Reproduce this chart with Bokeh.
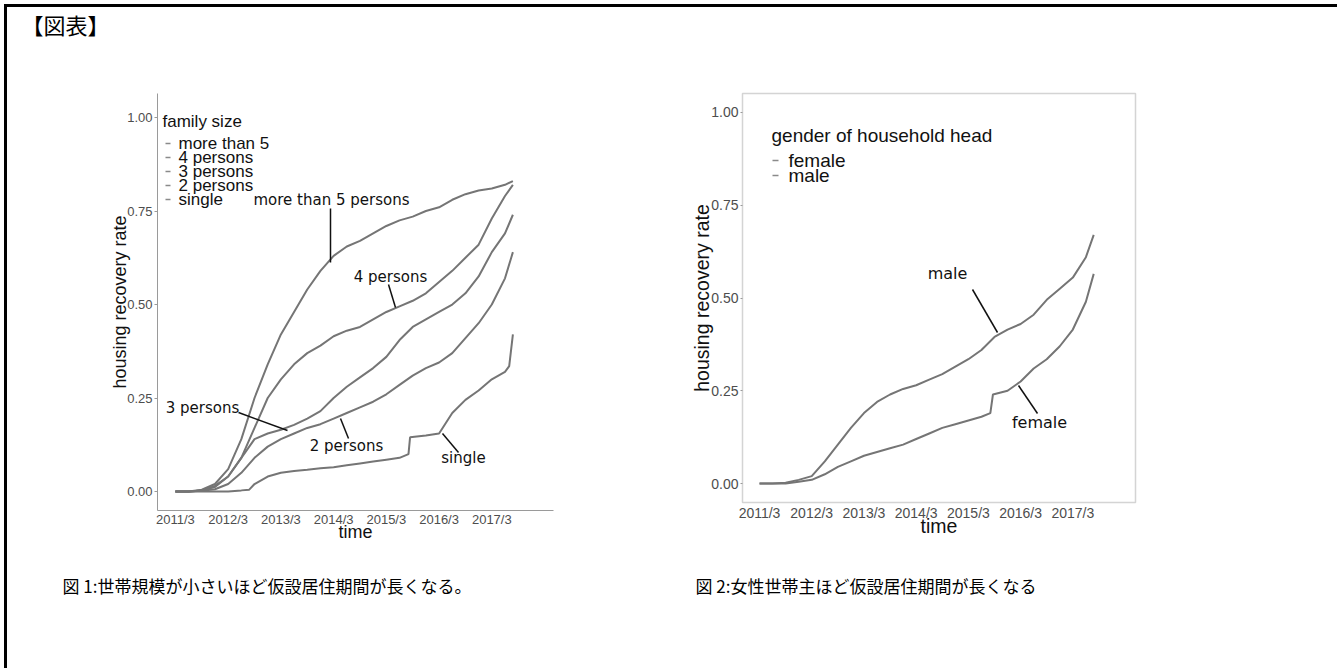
from bokeh.plotting import figure
from bokeh.layouts import row, column
from bokeh.models import Label, FixedTicker, Range1d
from bokeh.embed import file_html
from bokeh.resources import INLINE

# ---------------- data ----------------
x_ticks = [0, 1, 2, 3, 4, 5, 6]
x_tick_labels = ["2011/3", "2012/3", "2013/3", "2014/3", "2015/3", "2016/3", "2017/3"]
y_ticks = [0, 0.25, 0.5, 0.75, 1.0]
y_tick_labels = ["0.00", "0.25", "0.50", "0.75", "1.00"]

# time in years since 2011/3
t_q = [0, 0.25, 0.5, 0.75, 1.0, 1.25, 1.5, 1.75, 2.0, 2.25, 2.5, 2.75, 3.0, 3.25,
       3.5, 3.75, 4.0, 4.25, 4.5, 4.75, 5.0, 5.25, 5.5, 5.75, 6.0, 6.25, 6.4]

more_than_5 = [0, 0, 0.005, 0.02, 0.06, 0.14, 0.25, 0.34, 0.42, 0.48, 0.54, 0.59, 0.63, 0.655,
               0.67, 0.69, 0.71, 0.725, 0.735, 0.75, 0.76, 0.78, 0.795, 0.805, 0.81, 0.82, 0.83]
persons_4 = [0, 0, 0.003, 0.015, 0.04, 0.09, 0.17, 0.25, 0.30, 0.34, 0.37, 0.39, 0.415, 0.43,
             0.44, 0.46, 0.48, 0.495, 0.51, 0.53, 0.56, 0.59, 0.625, 0.66, 0.73, 0.79, 0.82]
persons_3 = [0, 0, 0.003, 0.012, 0.04, 0.09, 0.14, 0.155, 0.165, 0.178, 0.195, 0.215, 0.25, 0.28,
             0.305, 0.33, 0.36, 0.405, 0.44, 0.46, 0.48, 0.50, 0.53, 0.575, 0.64, 0.69, 0.74]
persons_2 = [0, 0, 0.002, 0.006, 0.02, 0.05, 0.09, 0.12, 0.14, 0.155, 0.17, 0.18, 0.195, 0.21,
             0.225, 0.24, 0.26, 0.285, 0.31, 0.33, 0.345, 0.37, 0.41, 0.45, 0.50, 0.57, 0.64]
t_single = [0, 0.25, 0.5, 0.75, 1.0, 1.25, 1.4, 1.5, 1.75, 2.0, 2.25, 2.5, 2.75, 3.0, 3.25, 3.5,
            3.75, 4.0, 4.25, 4.42, 4.45, 4.75, 5.0, 5.25, 5.5, 5.75, 6.0, 6.25, 6.33, 6.4]
single = [0, 0, 0, 0, 0, 0.003, 0.005, 0.02, 0.04, 0.05, 0.055, 0.058, 0.062, 0.065, 0.07, 0.075,
          0.08, 0.085, 0.09, 0.10, 0.145, 0.15, 0.155, 0.21, 0.245, 0.27, 0.30, 0.32, 0.335, 0.42]

t_male = t_q
male = [0, 0, 0.002, 0.01, 0.02, 0.06, 0.105, 0.15, 0.19, 0.22, 0.24, 0.255, 0.265, 0.28,
        0.295, 0.315, 0.335, 0.36, 0.395, 0.415, 0.43, 0.455, 0.495, 0.525, 0.555, 0.61, 0.67]
t_female = [0, 0.25, 0.5, 0.75, 1.0, 1.25, 1.5, 1.75, 2.0, 2.25, 2.5, 2.75, 3.0, 3.25, 3.5,
            3.75, 4.0, 4.25, 4.42, 4.47, 4.75, 5.0, 5.25, 5.5, 5.75, 6.0, 6.25, 6.4]
female = [0, 0, 0, 0.005, 0.01, 0.025, 0.045, 0.06, 0.075, 0.085, 0.095, 0.105, 0.12, 0.135, 0.15,
          0.16, 0.17, 0.18, 0.19, 0.24, 0.25, 0.275, 0.31, 0.335, 0.37, 0.415, 0.49, 0.565]

family_legend = ["more than 5", "4 persons", "3 persons", "2 persons", "single"]
family_notes = ["more than 5 persons", "4 persons", "3 persons", "2 persons", "single"]
gender_legend = ["female", "male"]
gender_notes = ["male", "female"]

title_text = "【図表】"
caption1 = "図 1:世帯規模が小さいほど仮設居住期間が長くなる。"
caption2 = "図 2:女性世帯主ほど仮設居住期間が長くなる"

# ---------------- styles ----------------
LINE = "#757575"
SANS = "Liberation Sans"
NOTE = "DejaVu Sans"
CJK = "Noto Sans CJK JP"
OX, OY = 7, 7          # page position of the layout content
W = 1330
HEAD_H = 50
ROW_H = 503
FOOT_H = 108
ROW_TOP = OY + HEAD_H
ROW_BOT = ROW_TOP + ROW_H


def mapper(L, R, T, B, xr, yr):
    def fx(px):
        return xr[0] + (px - L) / (R - L) * (xr[1] - xr[0])

    def fy(py):
        return yr[0] + (B - py) / (B - T) * (yr[1] - yr[0])
    return fx, fy


def base_fig(xr, yr, fw, fh, bl, br, bt, bb):
    p = figure(x_range=xr, y_range=yr, frame_width=fw, frame_height=fh,
               min_border_left=bl, min_border_right=br, min_border_top=bt, min_border_bottom=bb,
               output_backend="svg", toolbar_location=None, tools="")
    p.background_fill_color = "white"
    p.border_fill_color = "white"
    p.xgrid.visible = False
    p.ygrid.visible = False
    p.xaxis.ticker = FixedTicker(ticks=x_ticks)
    p.xaxis.major_label_overrides = dict(zip(x_ticks, x_tick_labels))
    p.yaxis.ticker = FixedTicker(ticks=y_ticks)
    p.yaxis.major_label_overrides = dict(zip(y_ticks, y_tick_labels))
    for ax in (p.xaxis, p.yaxis):
        ax.minor_tick_line_color = None
        ax.major_label_text_font = SANS
        ax.major_label_text_color = "#4d4d4d"
        ax.axis_label_text_font = SANS
        ax.axis_label_text_font_style = "normal"
        ax.axis_label_text_color = "#111111"
    p.xaxis.major_tick_line_color = None
    p.xaxis.major_tick_out = 0
    p.xaxis.major_tick_in = 0
    p.yaxis.major_tick_in = 0
    p.xaxis.axis_label = "time"
    p.yaxis.axis_label = "housing recovery rate"
    return p


def text_fig(h):
    p = figure(width=W, height=h, x_range=Range1d(0, W), y_range=Range1d(h, 0),
               x_axis_type=None, y_axis_type=None, min_border=0,
               output_backend="svg", toolbar_location=None, tools="")
    p.outline_line_color = None
    p.xgrid.visible = False
    p.ygrid.visible = False
    p.background_fill_color = "white"
    p.border_fill_color = "white"
    return p


def lab(p, x, y, text, size, font=SANS, align="left", color="#111111"):
    p.add_layout(Label(x=x, y=y, text=text, text_font=font, text_font_size=size,
                       text_align=align, text_baseline="middle", text_color=color))


# ---------------- header / footer ----------------
head = text_fig(HEAD_H)
lab(head, 21 - OX, 23 - OY, title_text, "22px", font=CJK, color="#000000")

foot = text_fig(FOOT_H)
lab(foot, 62 - OX, 585 - ROW_BOT, caption1, "17px", font=CJK, color="#000000")
lab(foot, 695 - OX, 585 - ROW_BOT, caption2, "17px", font=CJK, color="#000000")

# ---------------- figure 1 ----------------
F_TOP = 93
X1 = (-0.34, 7.17)
Y1 = (-0.0508, 1.0642)
fx1, fy1 = mapper(157, 553, F_TOP, 510, X1, Y1)
p1 = base_fig(X1, Y1, 396, 510 - F_TOP, 157 - OX, 650 - 553, F_TOP - ROW_TOP, ROW_BOT - 510)
p1.outline_line_color = None
for ax in (p1.xaxis, p1.yaxis):
    ax.axis_line_color = "#9a9a9a"
    ax.major_label_text_font_size = "13px"
    ax.axis_label_text_font_size = "18px"
p1.yaxis.major_tick_line_color = "#9a9a9a"
p1.yaxis.major_tick_out = 3
p1.yaxis.major_label_standoff = 2
p1.yaxis.axis_label_standoff = -6
p1.xaxis.major_label_standoff = 1
p1.xaxis.axis_label_standoff = -8

for ys, ts in ((more_than_5, t_q), (persons_4, t_q), (persons_3, t_q), (persons_2, t_q),
               (single, t_single)):
    p1.line(ts, ys, line_color=LINE, line_width=2)

# legend
lab(p1, fx1(162), fy1(121), "family size", "17px")
leg_y = [143, 157, 171, 185, 199]
for name, py in zip(family_legend, leg_y):
    lab(p1, fx1(178), fy1(py), name, "17px")
p1.segment(x0=[fx1(165)] * 5, x1=[fx1(170)] * 5, y0=[fy1(v) for v in leg_y],
           y1=[fy1(v) for v in leg_y], line_color="#8a8a8a", line_width=1.5)

# annotations: text centre (px, py), pointer line (x0,y0,x1,y1) in pixels
notes1 = [((331, 199), (330, 208, 330, 262)),
          ((390, 276), (388, 284, 395, 307)),
          ((202, 407), (238, 412, 287, 430)),
          ((346, 445), (340, 418, 348, 438)),
          ((463, 457), (442, 433, 458, 452))]
for text, ((cx, cy), (a, b, c, d)) in zip(family_notes, notes1):
    lab(p1, fx1(cx), fy1(cy), text, "15px", font=NOTE, align="center")
    p1.segment(x0=[fx1(a)], y0=[fy1(b)], x1=[fx1(c)], y1=[fy1(d)],
               line_color="#111111", line_width=1.5)

# ---------------- figure 2 ----------------
X2 = (-0.326, 7.20)
Y2 = (-0.051, 1.051)
fx2, fy2 = mapper(742, 1135, F_TOP, 502, X2, Y2)
p2 = base_fig(X2, Y2, 393, 502 - F_TOP, 742 - 650, OX + W - 1135, F_TOP - ROW_TOP, ROW_BOT - 502)
p2.outline_line_color = "#d4d4d4"
p2.outline_line_width = 1.5
for ax in (p2.xaxis, p2.yaxis):
    ax.axis_line_color = None
    ax.major_label_text_font_size = "14px"
    ax.axis_label_text_font_size = "19.5px"
p2.yaxis.major_tick_line_color = "#9a9a9a"
p2.yaxis.major_tick_out = 2
p2.yaxis.major_label_standoff = 2
p2.yaxis.axis_label_standoff = -5
p2.xaxis.major_label_standoff = 2
p2.xaxis.axis_label_standoff = -9

p2.line(t_female, female, line_color=LINE, line_width=2)
p2.line(t_male, male, line_color=LINE, line_width=2)

lab(p2, fx2(771), fy2(135), "gender of household head", "19px")
leg2_y = [160, 175]
for name, py in zip(gender_legend, leg2_y):
    lab(p2, fx2(788), fy2(py), name, "19px")
p2.segment(x0=[fx2(772)] * 2, x1=[fx2(778)] * 2, y0=[fy2(v) for v in leg2_y],
           y1=[fy2(v) for v in leg2_y], line_color="#8a8a8a", line_width=1.5)

notes2 = [((947, 273), (972, 289, 997, 332)),
          ((1039, 422), (1018, 385, 1037, 413))]
for text, ((cx, cy), (a, b, c, d)) in zip(gender_notes, notes2):
    lab(p2, fx2(cx), fy2(cy), text, "16px", font=NOTE, align="center")
    p2.segment(x0=[fx2(a)], y0=[fy2(b)], x1=[fx2(c)], y1=[fy2(d)],
               line_color="#111111", line_width=1.5)

layout = column(head, row(p1, p2), foot, margin=(4, 0, 0, 4),
                styles={"border-top": "3px solid #000000", "border-left": "3px solid #000000"})

open("out.html", "w").write(file_html(layout, INLINE))
